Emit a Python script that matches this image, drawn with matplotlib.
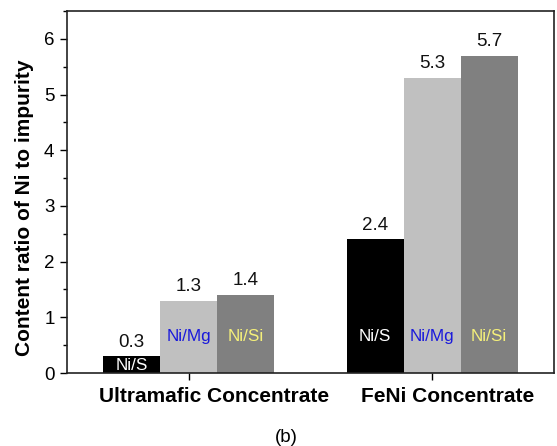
import matplotlib
matplotlib.use("Agg")
import matplotlib.pyplot as plt
import matplotlib.transforms as mtransforms
import numpy as np
from matplotlib.ticker import MultipleLocator

plt.rcParams['font.family'] = ['Liberation Sans', 'DejaVu Sans']

groups = ["Ultramafic Concentrate", "FeNi Concentrate"]
series = ["Ni/S", "Ni/Mg", "Ni/Si"]
values = {
    "Ni/S": [0.3, 2.4],
    "Ni/Mg": [1.3, 5.3],
    "Ni/Si": [1.4, 5.7],
}
bar_colors = {"Ni/S": "#000000", "Ni/Mg": "#c0c0c0", "Ni/Si": "#808080"}
text_colors = {"Ni/S": "#ffffff", "Ni/Mg": "#1a1adb", "Ni/Si": "#f5f07a"}
inner_label_y = [[0.13, 0.65, 0.65], [0.65, 0.65, 0.65]]

fig = plt.figure(figsize=(5.57, 4.46), dpi=100)
ax = fig.add_axes([67/557, 1-373/446, (554-67)/557, (373-11)/446])

x = np.arange(len(groups))
w = 0.234
for i, s in enumerate(series):
    xs = x + (i - 1) * w
    ax.bar(xs, values[s], width=w, color=bar_colors[s], edgecolor='none')
    for g in range(len(groups)):
        v = values[s][g]
        ax.text(xs[g], v + 0.1, f"{v:.1f}", ha='center', va='bottom', fontsize=13.5, color='#111111')
        ax.text(xs[g], inner_label_y[g][i], s, ha='center', va='center', fontsize=12.3, color=text_colors[s])

ax.set_xlim(-0.5, 1.5)
ax.set_ylim(0, 6.5)
ax.set_xticks(x)
ax.tick_params(axis='x', which='major', length=5, width=1, direction='out', labelbottom=False)
# group labels in the reference sit slightly right of their ticks
label_shift_px = [25, 15]
for g, (name, dx) in enumerate(zip(groups, label_shift_px)):
    tr = ax.get_xaxis_transform() + mtransforms.ScaledTranslation(dx / 100, -24 / 100, fig.dpi_scale_trans)
    ax.text(x[g], 0, name, transform=tr, ha='center', va='center',
            fontsize=15, fontweight='bold', clip_on=False)
ax.yaxis.set_major_locator(MultipleLocator(1))
ax.yaxis.set_minor_locator(MultipleLocator(0.5))
ax.tick_params(axis='y', which='major', labelsize=13.5, length=5, width=1, direction='out', pad=4)
ax.tick_params(axis='y', which='minor', length=3, width=1, direction='out')
ax.set_ylabel("Content ratio of Ni to impurity", fontsize=15, fontweight='bold')
ax.yaxis.set_label_coords(-0.068, 0.456)
for sp in ax.spines.values():
    sp.set_linewidth(1.2)
    sp.set_color('#222222')

fig.text(286/557, 1-437/446, "(b)", ha='center', va='center', fontsize=13.5)

fig.savefig("out.png", dpi=100)
